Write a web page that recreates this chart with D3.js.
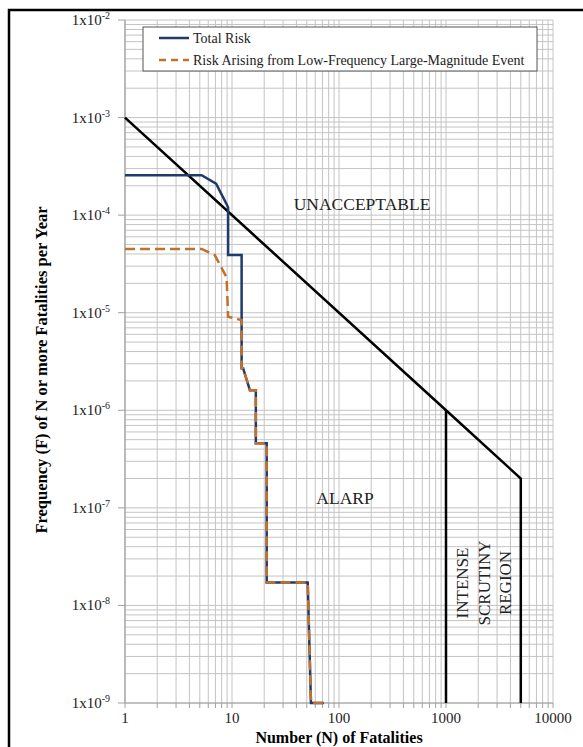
<!DOCTYPE html>
<html>
<head>
<meta charset="utf-8">
<script src="https://cdn.jsdelivr.net/npm/d3@7"></script>
<style>
  html, body { margin: 0; padding: 0; background: #fff; }
  svg { display: block; font-family: "Liberation Serif", "Times New Roman", serif; }
</style>
</head>
<body>
<svg id="chart" width="583" height="747"></svg>
<script>
// F-N curve values
const totalN = [1, 5.2, 7.1, 8.8, 9.2, 9.2, 12.3, 12.3, 12.7, 14.7, 16.7, 16.7, 21.1, 21.1, 51, 54.7, 72];
const totalF = [2.57e-4, 2.57e-4, 2.1e-4, 1.33e-4, 1.2e-4, 3.9e-5, 3.9e-5, 2.7e-6, 2.7e-6, 1.6e-6, 1.6e-6, 4.6e-7, 4.6e-7, 1.72e-8, 1.72e-8, 1e-9, 1e-9];
const eventN = [1, 5.2, 6.9, 8.9, 9.2, 12.3, 12.3, 12.7, 14.7, 16.7, 16.7, 21.1, 21.1, 51, 54.7, 72];
const eventF = [4.5e-5, 4.5e-5, 3.9e-5, 2.3e-5, 9.1e-6, 8.4e-6, 2.7e-6, 2.7e-6, 1.6e-6, 1.6e-6, 4.6e-7, 4.6e-7, 1.72e-8, 1.72e-8, 1e-9, 1e-9];
// criterion line and the intense scrutiny boundaries
const critN = [1, 1000, 5000, 5000];
const critF = [1e-3, 1e-6, 2e-7, 1e-9];
const scrutinyN = [1000, 1000];
const scrutinyF = [1e-6, 1e-9];

const xTicks = [1, 10, 100, 1000, 10000];
const yExps = [-9, -8, -7, -6, -5, -4, -3, -2];

const svg = d3.select("#chart");

const x = d3.scaleLog().domain([1, 10000]).range([125, 553]);
const y = d3.scaleLog().domain([1e-9, 1e-2]).range([703, 20]);

// outer frame
svg.append("rect")
  .attr("x", 9).attr("y", 10)
  .attr("width", 620).attr("height", 800)
  .attr("fill", "none").attr("stroke", "#000").attr("stroke-width", 2.5);

// grid (major + minor)
const minorX = [];
for (let d = 1; d < 10000; d *= 10) for (let k = 1; k <= 9; k++) minorX.push(d * k);
minorX.push(10000);
const minorY = [];
for (let e = -9; e < -2; e++) for (let k = 1; k <= 9; k++) minorY.push(k * Math.pow(10, e));
minorY.push(1e-2);

const grid = svg.append("g");
grid.selectAll("line.vx").data(minorX).enter().append("line")
  .attr("x1", d => x(d)).attr("x2", d => x(d))
  .attr("y1", y(1e-2)).attr("y2", y(1e-9))
  .attr("stroke", "#c4c4c4").attr("stroke-width", 1);
grid.selectAll("line.hy").data(minorY).enter().append("line")
  .attr("y1", d => y(d)).attr("y2", d => y(d))
  .attr("x1", x(1)).attr("x2", x(10000))
  .attr("stroke", "#c4c4c4").attr("stroke-width", 1);

// axes lines and ticks
svg.append("line")
  .attr("x1", x(1)).attr("x2", x(1)).attr("y1", y(1e-2)).attr("y2", y(1e-9))
  .attr("stroke", "#a0a0a0").attr("stroke-width", 1.2);
svg.append("line")
  .attr("x1", x(1)).attr("x2", x(10000)).attr("y1", y(1e-9)).attr("y2", y(1e-9))
  .attr("stroke", "#a0a0a0").attr("stroke-width", 1.2);
svg.selectAll("line.yt").data(yExps).enter().append("line")
  .attr("x1", x(1) - 7).attr("x2", x(1))
  .attr("y1", d => y(Math.pow(10, d))).attr("y2", d => y(Math.pow(10, d)))
  .attr("stroke", "#a0a0a0");
svg.selectAll("line.xt").data(minorX).enter().append("line")
  .attr("x1", d => x(d)).attr("x2", d => x(d))
  .attr("y1", y(1e-9)).attr("y2", y(1e-9) + 5)
  .attr("stroke", "#a0a0a0");

// y tick labels
const yl = svg.selectAll("text.yl").data(yExps).enter().append("text")
  .attr("x", 110).attr("y", d => y(Math.pow(10, d)) + 5)
  .attr("text-anchor", "end").attr("font-size", 15).attr("fill", "#222");
yl.append("tspan").text("1x10");
yl.append("tspan").attr("dy", -6).attr("font-size", 10).text(d => String(d));

// x tick labels
svg.selectAll("text.xl").data(xTicks).enter().append("text")
  .attr("x", d => x(d)).attr("y", 723)
  .attr("text-anchor", "middle").attr("font-size", 15).attr("fill", "#222")
  .text(d => d);

// axis titles
svg.append("text")
  .attr("x", 339).attr("y", 743)
  .attr("text-anchor", "middle").attr("font-size", 16).attr("font-weight", "bold")
  .text("Number (N) of Fatalities");
svg.append("text")
  .attr("transform", "translate(47,370) rotate(-90)")
  .attr("text-anchor", "middle").attr("font-size", 16.5).attr("font-weight", "bold")
  .text("Frequency (F) of N or more Fatalities per Year");

const line = d3.line().x(d => x(d[0])).y(d => y(d[1]));

// criterion lines
svg.append("path")
  .datum(d3.zip(critN, critF))
  .attr("d", line).attr("fill", "none")
  .attr("stroke", "#000").attr("stroke-width", 2.5);
svg.append("path")
  .datum(d3.zip(scrutinyN, scrutinyF))
  .attr("d", line).attr("fill", "none")
  .attr("stroke", "#000").attr("stroke-width", 2.5);

// risk curves
const navy = "#1f3a6b";
const orange = "#c0712c";
svg.append("path")
  .datum(d3.zip(totalN, totalF))
  .attr("d", line).attr("fill", "none")
  .attr("stroke", navy).attr("stroke-width", 2.5);
svg.append("path")
  .datum(d3.zip(eventN, eventF))
  .attr("d", line).attr("fill", "none")
  .attr("stroke", orange).attr("stroke-width", 2.5)
  .attr("stroke-dasharray", "10,5");

// region labels
svg.append("text").attr("x", 362).attr("y", 210)
  .attr("text-anchor", "middle").attr("font-size", 17.5).attr("fill", "#222")
  .text("UNACCEPTABLE");
svg.append("text").attr("x", 345).attr("y", 504)
  .attr("text-anchor", "middle").attr("font-size", 17.5).attr("fill", "#222")
  .text("ALARP");
const isr = ["INTENSE", "SCRUTINY", "REGION"];
svg.selectAll("text.isr").data(isr).enter().append("text")
  .attr("transform", (d, i) => `translate(${468 + i * 21.5},583) rotate(-90)`)
  .attr("text-anchor", "middle").attr("font-size", 17).attr("fill", "#222")
  .text(d => d);

// legend
const lg = svg.append("g");
lg.append("rect")
  .attr("x", 143).attr("y", 27).attr("width", 394).attr("height", 44)
  .attr("fill", "#fff").attr("stroke", "#555").attr("stroke-width", 1);
const legendItems = [
  {label: "Total Risk", color: navy, dash: null},
  {label: "Risk Arising from Low-Frequency Large-Magnitude Event", color: orange, dash: "7,5"}
];
const li = lg.selectAll("g.li").data(legendItems).enter().append("g")
  .attr("transform", (d, i) => `translate(0,${38 + i * 22})`);
li.append("line")
  .attr("x1", 159).attr("x2", 189).attr("y1", 0).attr("y2", 0)
  .attr("stroke", d => d.color).attr("stroke-width", 2.5)
  .attr("stroke-dasharray", d => d.dash);
li.append("text")
  .attr("x", 193).attr("y", 5)
  .attr("font-size", 14).attr("fill", "#222")
  .text(d => d.label);
</script>
</body>
</html>
